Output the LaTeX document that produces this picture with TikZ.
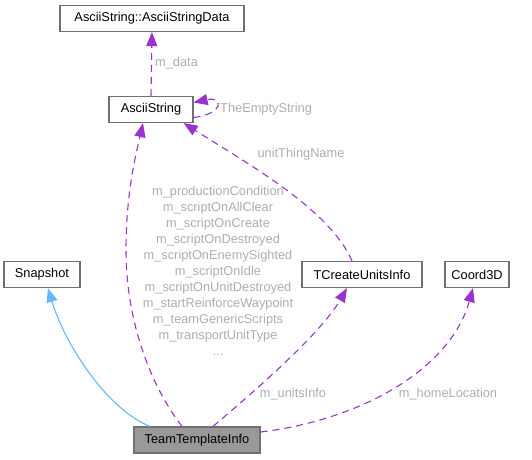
\documentclass[tikz,border=0pt]{standalone}
\usepackage{fontspec}
\setmainfont{Liberation Sans}
\usetikzlibrary{arrows.meta}
\definecolor{edgepurple}{HTML}{9A32CD}
\definecolor{edgeblue}{HTML}{63B8FF}
\definecolor{labelgrey}{HTML}{ADADAD}
\definecolor{boxborder}{HTML}{707070}
\definecolor{boxfill}{HTML}{999999}
\begin{document}
\begin{tikzpicture}[x=1pt,y=-1pt,
  cls/.style={draw=boxborder,line width=1.2pt,fill=white,minimum height=26pt,inner sep=0pt,
    font=\fontsize{12.8}{15}\selectfont,text=black},
  cur/.style={cls,fill=boxfill},
  usage/.style={draw=edgepurple,line width=1.1pt,dash pattern=on 7pt off 5pt,
    -{Triangle[length=14pt,width=11pt]}},
  inherit/.style={draw=edgeblue,line width=1.1pt,
    -{Triangle[length=14pt,width=11pt]}},
  lbl/.style={text=labelgrey,font=\fontsize{12.8}{16}\selectfont,inner sep=0pt}
  ]
\useasboundingbox (0,0) rectangle (532,459);
\node[cls,minimum width=184pt] (asd) at (152,18.5) {AsciiString::AsciiStringData};
\node[cls,minimum width=84pt] (as) at (151,109.5) {AsciiString};
\node[cls,minimum width=76pt] (snap) at (42,274.5) {Snapshot};
\node[cls,minimum width=120pt] (tcu) at (362,274.5) {TCreateUnitsInfo};
\node[cls,minimum width=64pt] (c3d) at (477,274.5) {Coord3D};
\node[cur,minimum width=126pt] (tti) at (197,440) {TeamTemplateInfo};

% inheritance
\draw[inherit] ([xshift=-47pt]tti.north) .. controls (108,410) and (65,345) .. ([xshift=6pt]snap.south);
% AsciiString members
\draw[usage] ([xshift=-15pt]tti.north) .. controls (150,385) and (126,320) .. (126,250)
  .. controls (126,190) and (137,150) .. ([xshift=-8pt]as.south);
% units info
\draw[usage] ([xshift=16pt]tti.north) .. controls (250,395) and (320,335) .. ([xshift=-15pt]tcu.south);
% home location
\draw[usage] ([yshift=8pt]tti.east) .. controls (360,420) and (450,370) .. ([xshift=-4pt]c3d.south);
% m_data
\draw[usage] (as.north) -- (asd.south);
% self loop
\draw[usage] ([yshift=-8pt]as.east) .. controls (224,114) and (224,96) .. ([yshift=7pt]as.east);
% unitThingName
\draw[usage] ([xshift=-10pt]tcu.north) .. controls (330,210) and (250,165) .. ([xshift=-10pt]as.south east);

\node[lbl,anchor=west] (lmdata) at (155,63) {m\_data};
\node[lbl,anchor=west] (lempty) at (220,109) {TheEmptyString};
\node[lbl] (lunit) at (301,154) {unitThingName};
\node[lbl] (lunits) at (293,394) {m\_unitsInfo};
\node[lbl] (lhome) at (448,394) {m\_homeLocation};
\node[lbl,align=center,anchor=north] (lmembers) at (218,186) {m\_productionCondition\\m\_scriptOnAllClear\\m\_scriptOnCreate\\m\_scriptOnDestroyed\\m\_scriptOnEnemySighted\\m\_scriptOnIdle\\m\_scriptOnUnitDestroyed\\m\_startReinforceWaypoint\\m\_teamGenericScripts\\m\_transportUnitType\\...};
\end{tikzpicture}
\end{document}
